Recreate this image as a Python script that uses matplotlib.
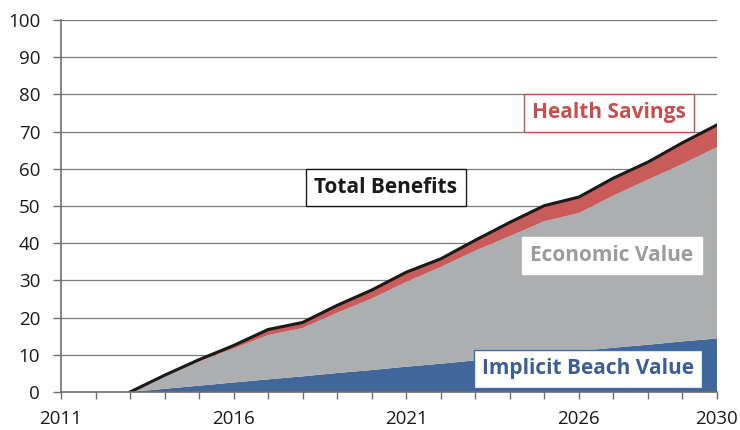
import numpy as np
import matplotlib
matplotlib.use('Agg')
import matplotlib.pyplot as plt

# Dane
years = list(range(2013, 2031))
beach = [0, 0.85, 1.7, 2.55, 3.4, 4.2, 5.1, 5.9, 6.8, 7.6, 8.5, 9.3, 10.2, 11.0, 11.9, 12.7, 13.6, 14.4]
econ_top = [0, 4.2, 8.2, 11.7, 15.3, 17.2, 21.3, 25.1, 29.6, 33.6, 38.0, 41.9, 45.9, 48.1, 52.8, 57.1, 61.3, 65.8]
total = [0, 4.5, 8.7, 12.5, 16.8, 18.7, 23.3, 27.4, 32.2, 35.8, 40.8, 45.6, 50.1, 52.4, 57.5, 61.8, 67.0, 71.8]

x_labels = [2011, 2016, 2021, 2026, 2030]
y_ticks = list(range(0, 101, 10))

economic = np.array(econ_top) - np.array(beach)
health = np.array(total) - np.array(econ_top)

plt.rcParams['font.family'] = ['Open Sans', 'DejaVu Sans']

fig = plt.figure(figsize=(7.4, 4.3), dpi=100)
ax = fig.add_axes([0.0824, 0.0884, 0.8865, 0.8651])

blue = '#41669a'
grey = '#adaeb0'
red = '#c95b5a'

ax.stackplot(years, beach, economic, health, colors=[blue, grey, red], linewidth=0, zorder=2)
ax.plot(years, total, color='#1a1a1a', linewidth=2.2, zorder=3, solid_joinstyle='round')

# Siatka
for v in y_ticks[1:]:
    ax.axhline(v, color='#7a7a7a', linewidth=0.9, zorder=1)

ax.set_xlim(2011, 2030)
ax.set_ylim(0, 100)
ax.set_yticks(y_ticks)
ax.set_xticks(range(2011, 2031))
ax.set_xticklabels([str(y) if y in x_labels else '' for y in range(2011, 2031)])

for s in ['top', 'right']:
    ax.spines[s].set_visible(False)
for s in ['left', 'bottom']:
    ax.spines[s].set_color('#6e6e6e')
    ax.spines[s].set_linewidth(1.2)
ax.spines['bottom'].set_zorder(4)

ax.tick_params(axis='x', length=5, width=1, color='#6e6e6e', pad=8, labelsize=13.5, labelcolor='#1a1a1a')
ax.tick_params(axis='y', length=6, width=1, color='#6e6e6e', pad=9, labelsize=13.5, labelcolor='#1a1a1a')

# Etykiety
ax.text(2026.87, 75.0, 'Health Savings', color='#c4504f', fontsize=15, fontweight='bold',
        ha='center', va='center', zorder=5,
        bbox=dict(boxstyle='square,pad=0.4', fc='white', ec='#c4504f', lw=1))
ax.text(2020.41, 55.0, 'Total Benefits', color='#1a1a1a', fontsize=15, fontweight='bold',
        ha='center', va='center', zorder=5,
        bbox=dict(boxstyle='square,pad=0.4', fc='white', ec='#1a1a1a', lw=1))
ax.text(2026.96, 36.7, 'Economic Value', color='#9c9c9c', fontsize=15, fontweight='bold',
        ha='center', va='center', zorder=5,
        bbox=dict(boxstyle='square,pad=0.4', fc='white', ec='white', lw=1))
ax.text(2026.26, 6.2, 'Implicit Beach Value', color='#3b5f94', fontsize=15, fontweight='bold',
        ha='center', va='center', zorder=5,
        bbox=dict(boxstyle='square,pad=0.4', fc='white', ec='#3b6fb5', lw=1))

plt.savefig('out.png', dpi=100)
